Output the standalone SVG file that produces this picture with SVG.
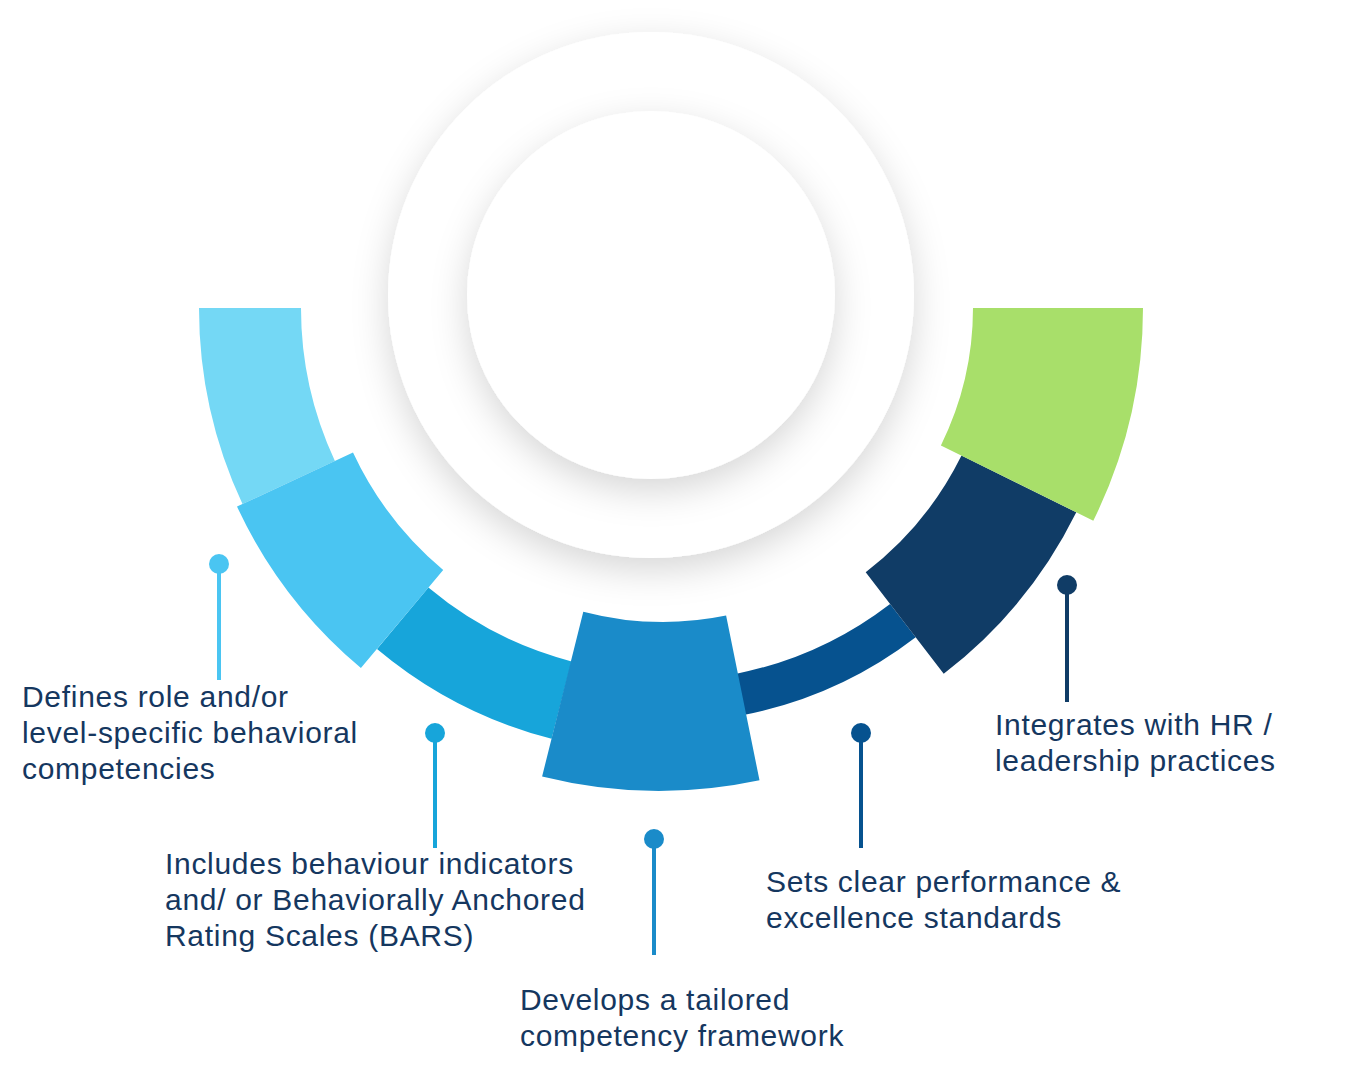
<svg xmlns="http://www.w3.org/2000/svg" width="1361" height="1075" viewBox="0 0 1361 1075">
  <style>
    .lbl { font-family: "Liberation Sans", Arial, sans-serif; font-size: 30px; fill: #15375F; letter-spacing: 0.7px; }
    .stem { stroke-width: 4; fill: none; }
  </style>
  <defs>
    <filter id="shadow" x="-30%" y="-30%" width="160%" height="170%">
      <feDropShadow dx="0" dy="12" stdDeviation="18" flood-color="#000000" flood-opacity="0.16"/>
    </filter>
  </defs>
  <rect width="1361" height="1075" fill="#ffffff"/>

  <g id="hub">
    <circle cx="651" cy="295" r="263" fill="#ffffff" filter="url(#shadow)"/>
    <circle cx="651" cy="295" r="184" fill="#ffffff" filter="url(#shadow)"/>
  </g>

  <g id="segments">
    <g id="seg-1"><path d="M199,308 A464,464 0 0 0 242.5,504.1 L334.9,461 A362,362 0 0 1 301,308 Z" fill="#74D8F5"/></g>
    <g id="seg-3"><path d="M377,648.9 A445,445 0 0 0 551.6,738.8 L571.6,661.4 A365,365 0 0 1 428.4,587.6 Z" fill="#17A5DA"/></g>
    <g id="seg-2"><path d="M237,506.6 A470,470 0 0 0 360.9,668 L443.2,570 A342,342 0 0 1 353,452.5 Z" fill="#4AC5F2"/></g>
    <g id="seg-5"><path d="M735.4,673.9 L743.6,715.1 A415,415 0 0 0 915.7,637.3 L890.1,603.9 A373,373 0 0 1 735.4,673.9 Z" fill="#06528F"/></g>
    <g id="seg-4"><path d="M583.3,611.7 L542.1,776.5 A482,482 0 0 0 759.5,780.3 L726.1,615.6 A314,314 0 0 1 583.3,611.7 Z" fill="#1A8BC9"/></g>
    <g id="seg-6"><path d="M865.7,572.2 L943.7,673.8 A461,461 0 0 0 1076.3,512.3 L961.5,455.6 A333,333 0 0 1 865.7,572.2 Z" fill="#103C66"/></g>
    <g id="seg-7"><path d="M973,308 L1143,308 A480,480 0 0 1 1093.3,520.7 L940.9,445.4 A310,310 0 0 0 973,308 Z" fill="#A8DF6A"/></g>
  </g>

  <g id="connectors">
    <line class="stem" x1="219" y1="564" x2="219" y2="680" stroke="#4AC5F2"/>
    <circle cx="219" cy="564" r="10" fill="#4AC5F2"/>
    <line class="stem" x1="435" y1="733" x2="435" y2="848" stroke="#17A5DA"/>
    <circle cx="435" cy="733" r="10" fill="#17A5DA"/>
    <line class="stem" x1="654" y1="839" x2="654" y2="955" stroke="#1A8BC9"/>
    <circle cx="654" cy="839" r="10" fill="#1A8BC9"/>
    <line class="stem" x1="861" y1="733" x2="861" y2="848" stroke="#06528F"/>
    <circle cx="861" cy="733" r="10" fill="#06528F"/>
    <line class="stem" x1="1067" y1="585" x2="1067" y2="702" stroke="#103C66"/>
    <circle cx="1067" cy="585" r="10" fill="#103C66"/>
  </g>

  <g id="label-1">
    <text class="lbl" x="22" y="707">Defines role and/or</text>
    <text class="lbl" x="22" y="743">level-specific behavioral</text>
    <text class="lbl" x="22" y="779">competencies</text>
  </g>
  <g id="label-2">
    <text class="lbl" x="165" y="874">Includes behaviour indicators</text>
    <text class="lbl" x="165" y="910">and/ or Behaviorally Anchored</text>
    <text class="lbl" x="165" y="946">Rating Scales (BARS)</text>
  </g>
  <g id="label-3">
    <text class="lbl" x="520" y="1010">Develops a tailored</text>
    <text class="lbl" x="520" y="1046">competency framework</text>
  </g>
  <g id="label-4">
    <text class="lbl" x="766" y="892">Sets clear performance &amp;</text>
    <text class="lbl" x="766" y="928">excellence standards</text>
  </g>
  <g id="label-5">
    <text class="lbl" x="995" y="735">Integrates with HR /</text>
    <text class="lbl" x="995" y="771">leadership practices</text>
  </g>
</svg>
